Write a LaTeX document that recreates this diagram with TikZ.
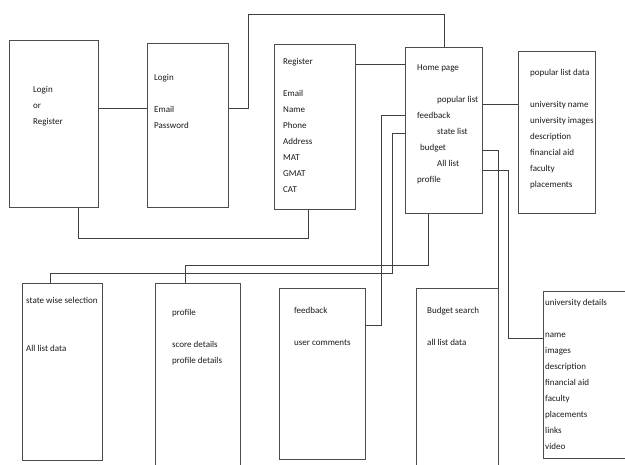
\documentclass[tikz,border=0pt]{standalone}
\usepackage{fontspec}
\setmainfont{Carlito}
\begin{document}
\begin{tikzpicture}[
      x=1pt, y=-1pt,
      every node/.style={font=\fontsize{9}{16}\selectfont},
      screen/.style={rectangle, draw=black!70, line width=0.9pt, anchor=north west, inner sep=0pt},
      txt/.style={anchor=north west, align=left, inner sep=0pt, text=black!90},
      link/.style={draw=black!75, line width=0.9pt}
  ]
    \useasboundingbox (0,0) rectangle (625,465);

    % screens
    \node[screen, minimum width=89pt, minimum height=167pt] (start) at (9,40) {};
    \node[screen, minimum width=81pt, minimum height=164pt] (login) at (147,43) {};
    \node[screen, minimum width=81pt, minimum height=165pt] (register) at (274,44) {};
    \node[screen, minimum width=77pt, minimum height=166pt] (home) at (405,47) {};
    \node[screen, minimum width=77pt, minimum height=162pt] (popular) at (518,51) {};
    \node[screen, minimum width=80pt, minimum height=177pt] (state) at (22,283) {};
    \node[screen, minimum width=85pt, minimum height=190pt] (profile) at (155,283) {};
    \node[screen, minimum width=86pt, minimum height=171pt] (feedback) at (279,288) {};
    \node[screen, minimum width=82pt, minimum height=185pt] (budget) at (416,288) {};
    \node[screen, minimum width=90pt, minimum height=167pt] (details) at (543,291) {};

    % screen contents
    \node[txt] (startT) at (33,86) {Login\\or\\Register};
    \node[txt] (loginT) at (154,74) {Login\\[16pt]Email\\Password};
    \node[txt] (registerT) at (283,58) {Register\\[16pt]Email\\Name\\Phone\\Address\\MAT\\GMAT\\CAT};
    \node[txt] (homeT) at (417,65) {Home page\\[16pt]\hspace{20pt}popular list\\feedback\\\hspace{20pt}state list\\\hspace{3pt}budget\\\hspace{20pt}All list\\profile};
    \node[txt] (popularT) at (530,69) {popular list data\\[16pt]university name\\university images\\description\\financial aid\\faculty\\placements};
    \node[txt] (stateT) at (26,297) {state wise selection\\[32pt]All list data};
    \node[txt] (profileT) at (172,309) {profile\\[16pt]score details\\profile details};
    \node[txt] (feedbackT) at (294,307) {feedback\\[16pt]user comments};
    \node[txt] (budgetT) at (427,307) {Budget search\\[16pt]all list data};
    \node[txt] (detailsT) at (545,299) {university details\\[16pt]name\\images\\description\\financial aid\\faculty\\placements\\links\\video};

    % navigation
    \draw[link] (start.east |- 0,108) -- (login.west |- 0,108);
    \draw[link] (login.east |- 0,108) -- (248,108) -- (248,14) -| (home.north);
    \draw[link] (register.east |- 0,64) -- (home.west |- 0,64);
    \draw[link] (start.south -| 78,0) -- ++(0,31) -| (register.south -| 308,0);
    \draw[link] (home.east |- 0,104) -- (popular.west |- 0,104);
    \draw[link] (home.west |- 0,115) -| (381,325) -- (feedback.east |- 0,325);
    \draw[link] (home.west |- 0,133) -| (392,273) -| (state.north -| 50,0);
    \draw[link] (home.south -| 428,0) -- ++(0,52) -| (profile.north -| 185,0);
    \draw[link] (home.east |- 0,150) -| (budget.north east);
    \draw[link] (home.east |- 0,170) -| (508,338) -- (details.west |- 0,338);
  \end{tikzpicture}
\end{document}
